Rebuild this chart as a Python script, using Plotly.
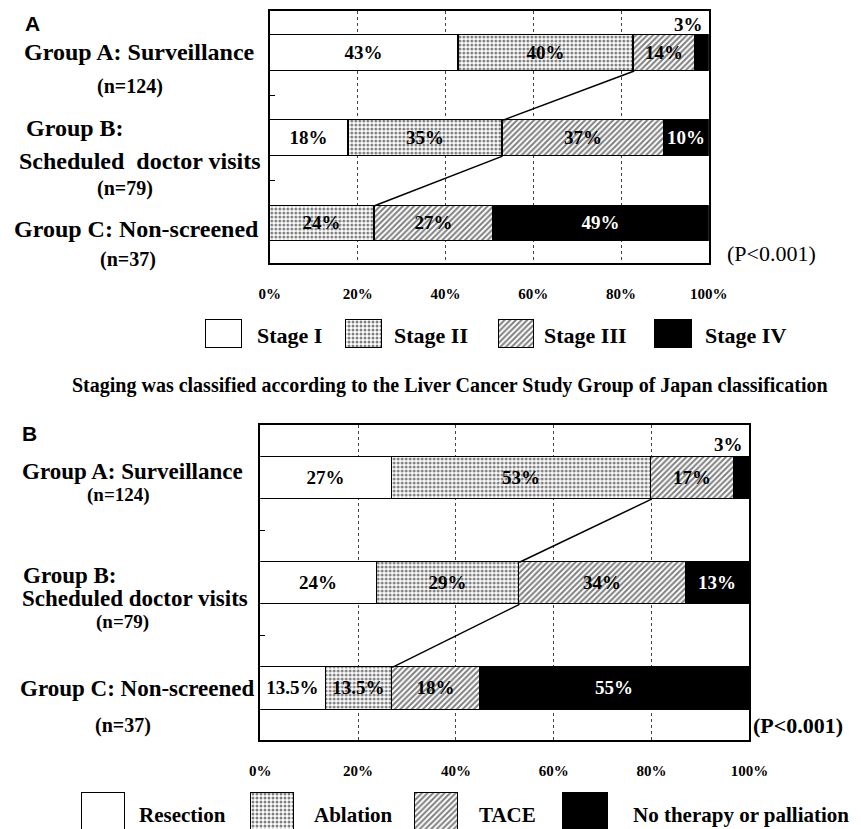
import plotly.graph_objects as go

# page body has an 8px margin, so the figure is drawn 8px in from the window corner
OFF = 8
WIN_W, WIN_H = 861, 829
W, H = WIN_W - OFF, WIN_H - OFF

# ---------------- data ----------------
group_pos = [2, 1, 0]          # Group A, Group B, Group C (top to bottom)

stage_names = ["Stage I", "Stage II", "Stage III", "Stage IV"]
stage_I = [43, 18, 0]
stage_II = [40, 35, 24]
stage_III = [14, 37, 27]
stage_IV = [3, 10, 49]

therapy_names = ["Resection", "Ablation", "TACE", "No therapy or palliation"]
resection = [27, 24, 13.5]
ablation = [53, 29, 13.5]
tace = [17, 34, 18]
no_therapy = [3, 13, 55]

x_ticks = [0, 20, 40, 60, 80, 100]
x_ticklabels = ["0%", "20%", "40%", "60%", "80%", "100%"]

group_labels = [["Group A: Surveillance", "(n=124)"],
                ["Group B:", "Scheduled  doctor visits", "(n=79)"],
                ["Group C: Non-screened", "(n=37)"]]
p_text = "(P<0.001)"
caption = "Staging was classified according to the Liver Cancer Study Group of Japan classification"

# ---------------- styles ----------------
fills = ["white", "white", "white", "black"]
shapes_pat = ["", ".", "/", ""]
solid = [0.3, 0.45, 0.5, 0.3]
txt_cols = ["black", "black", "black", "white"]
SERIF = "Liberation Serif"
SANS = "Liberation Sans"


def px(x):
    return (x - OFF) / W


def py(y):
    return 1 - (y - OFF) / H


fig = go.Figure()
annotations = []


def add_panel(series, names, xa, ya, bw):
    for k, (vals, name) in enumerate(zip(series, names)):
        texts = [("%g%%" % v) if v >= 5 else "" for v in vals]
        fig.add_trace(go.Bar(
            x=vals, y=group_pos, orientation="h", name=name, width=bw,
            xaxis=xa, yaxis=ya, showlegend=False,
            marker=dict(color=fills[k], line=dict(color="black", width=1.5),
                        pattern=dict(shape=shapes_pat[k], fgcolor="black", bgcolor=fills[k],
                                     size=4, solidity=solid[k])),
            text=texts, textposition="inside", insidetextanchor="middle", textangle=0,
            textfont=dict(family=SERIF, size=19, color=txt_cols[k], weight="bold"),
            cliponaxis=False,
        ))
    # connecting line through the cumulative share of the first two categories
    cum = [a + b for a, b in zip(series[0], series[1])]
    for i in range(len(cum) - 1):
        fig.add_shape(type="line", xref=xa, yref=ya,
                      x0=cum[i], y0=group_pos[i] - bw / 2,
                      x1=cum[i + 1], y1=group_pos[i + 1] + bw / 2,
                      line=dict(color="black", width=1.5))
    # small last-category label above the top bar
    annotations.append(dict(x=100, y=group_pos[0] + bw / 2 + 0.12, xref=xa, yref=ya,
                            text="%g%%" % series[3][0], xanchor="right", yanchor="middle",
                            xshift=-4, showarrow=False,
                            font=dict(family=SERIF, size=19, color="black", weight="bold")))


add_panel([stage_I, stage_II, stage_III, stage_IV], stage_names, "x", "y", 0.42)
add_panel([resection, ablation, tace, no_therapy], therapy_names, "x2", "y2", 0.40)

# ---------------- legend swatches (overlay pixel axes) ----------------
legA_boxes = [(202, 239), (347, 384), (505, 542), (667, 706)]
legA_text_x = [253, 395, 550, 717]
legB_boxes = [(73, 118), (248, 293), (418, 463), (572, 618)]
legB_text_x = [130, 312, 483, 642]

for k in range(4):
    for (boxes, top, bot) in [(legA_boxes, 320, 348), (legB_boxes, 793, 840)]:
        x0, x1 = boxes[k]
        fig.add_trace(go.Bar(
            x=[x1 - x0], base=[x0], y=[(top + bot) / 2], width=[bot - top], orientation="h",
            xaxis="x3", yaxis="y3", showlegend=False, hoverinfo="skip",
            marker=dict(color=fills[k], line=dict(color="black", width=1.5),
                        pattern=dict(shape=shapes_pat[k], fgcolor="black", bgcolor=fills[k],
                                     size=4, solidity=solid[k])),
            cliponaxis=True,
        ))


def txt(x, y, s, size, anchor="center", bold=True, family=SERIF):
    annotations.append(dict(x=px(x), y=py(y), xref="paper", yref="paper", text=s,
                            xanchor=anchor, yanchor="middle", showarrow=False,
                            font=dict(family=family, size=size, color="black",
                                      weight="bold" if bold else "normal")))


# legend texts
for k in range(4):
    txt(legA_text_x[k], 336, stage_names[k], 22, "left")
    txt(legB_text_x[k], 815, therapy_names[k], 21, "left")

# panel letters
txt(12, 23, "A", 21, "left", family=SANS)
txt(9, 433, "B", 21, "left", family=SANS)

# group labels, panel A
txt(133, 52, group_labels[0][0], 24)
txt(123, 87, group_labels[0][1], 20)
txt(13, 128, group_labels[1][0], 24, "left")
txt(133, 161, group_labels[1][1], 24)
txt(118, 189, group_labels[1][2], 20)
txt(130, 229, group_labels[2][0], 24)
txt(121, 260, group_labels[2][1], 20)

# group labels, panel B
txt(126, 472, group_labels[0][0], 23)
txt(111, 495, group_labels[0][1], 19)
txt(10, 575, group_labels[1][0], 23, "left")
txt(128, 598, group_labels[1][1].replace("  ", " "), 23)
txt(115, 622, group_labels[1][2], 19)
txt(130, 688, group_labels[2][0], 23)
txt(116, 725, group_labels[2][1], 20)

# p-values and caption
txt(740, 253, p_text, 22, "left", bold=False)
txt(767, 725, p_text, 22, "left")
txt(455, 385, caption, 20)

axis_common = dict(range=[0, 100], tickvals=x_ticks, ticktext=x_ticklabels, showgrid=True,
                   gridcolor="#444", griddash="dot", gridwidth=1, showline=True, mirror=True,
                   linecolor="black", linewidth=2, ticks="", zeroline=False,
                   tickfont=dict(family=SERIF, size=15, color="black", weight="bold"),
                   ticklabelstandoff=16, fixedrange=True)
yaxis_common = dict(showgrid=False, showline=True, mirror=True, linecolor="black", linewidth=2,
                    tickvals=[0.5, 1.5], ticks="inside", ticklen=5, tickcolor="black",
                    showticklabels=False, zeroline=False, fixedrange=True)

fig.update_layout(
    width=W, height=H, autosize=False,
    margin=dict(l=0, r=0, t=0, b=0),
    paper_bgcolor="white", plot_bgcolor="rgba(0,0,0,0)",
    barmode="stack", bargap=0,
    showlegend=False,
    xaxis=dict(domain=[px(268), px(723)], anchor="y", **axis_common),
    yaxis=dict(domain=[py(263), py(11)], anchor="x", range=[-0.465, 2.494], **yaxis_common),
    xaxis2=dict(domain=[px(258), px(765)], anchor="y2", **axis_common),
    yaxis2=dict(domain=[py(740), py(425)], anchor="x2", range=[-0.49, 2.505], **yaxis_common),
    xaxis3=dict(domain=[0, 1], range=[OFF, OFF + W], visible=False, anchor="y3", fixedrange=True),
    yaxis3=dict(domain=[0, 1], range=[OFF + H, OFF], visible=False, anchor="x3", fixedrange=True),
    annotations=annotations,
)

fig.write_html("out.html")
